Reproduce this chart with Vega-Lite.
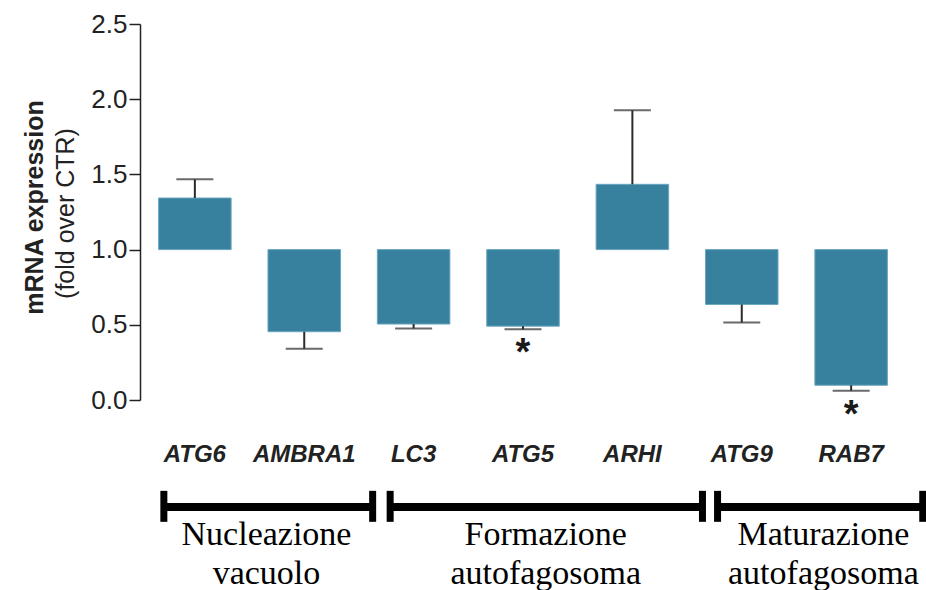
{
  "$schema": "https://vega.github.io/schema/vega-lite/v6.json",
  "width": 766,
  "height": 376,
  "autosize": {"type": "none"},
  "padding": {"left": 140, "top": 24, "right": 20, "bottom": 190},
  "background": "white",
  "config": {"view": {"stroke": null}, "font": "Liberation Sans"},
  "datasets": {
    "genes": [
      {"gene": "ATG6", "value": 1.343, "err": 1.467, "sig": ""},
      {"gene": "AMBRA1", "value": 0.454, "err": 0.341, "sig": ""},
      {"gene": "LC3", "value": 0.505, "err": 0.476, "sig": ""},
      {"gene": "ATG5", "value": 0.491, "err": 0.471, "sig": "*"},
      {"gene": "ARHI", "value": 1.434, "err": 1.926, "sig": ""},
      {"gene": "ATG9", "value": 0.635, "err": 0.516, "sig": ""},
      {"gene": "RAB7", "value": 0.098, "err": 0.062, "sig": "*"}
    ],
    "phases": [
      {"start": -0.282, "end": 1.626, "mid": 0.656, "label": ["Nucleazione", "vacuolo"]},
      {"start": 1.786, "end": 4.640, "mid": 3.208, "label": ["Formazione", "autofagosoma"]},
      {"start": 4.778, "end": 6.653, "mid": 5.745, "label": ["Maturazione", "autofagosoma"]}
    ]
  },
  "resolve": {"scale": {"x": "independent"}, "axis": {"y": "independent", "x": "independent"}},
  "layer": [
    {
      "data": {"name": "genes"},
      "encoding": {
        "x": {
          "field": "gene", "type": "nominal", "sort": null,
          "scale": {"paddingInner": 0.337, "paddingOuter": 0.17},
          "axis": {
            "title": null, "domain": false, "ticks": false, "labelAngle": 0,
            "labelPadding": 42, "labelFontSize": 24, "labelFontWeight": "bold",
            "labelFontStyle": "italic", "labelColor": "#222222", "labelFont": "Liberation Sans"
          }
        }
      },
      "layer": [
        {
          "mark": {"type": "bar", "color": "#37819F", "stroke": "#6aa6c0", "strokeWidth": 1},
          "encoding": {
            "y": {
              "field": "value", "type": "quantitative",
              "scale": {"domain": [0, 2.5], "nice": false, "zero": false},
              "axis": {
                "orient": "left",
                "values": [0, 0.5, 1, 1.5, 2, 2.5], "format": ".1f", "grid": false,
                "domainColor": "#222222", "domainWidth": 1.5, "tickColor": "#222222",
                "tickWidth": 1.5, "tickSize": 11, "labelFontSize": 26, "labelPadding": 2,
                "labelColor": "#222222", "labelFont": "Liberation Sans",
                "title": "(fold over CTR)", "titleFontWeight": "normal", "titleFontSize": 25,
                "titleColor": "#222222", "titleFont": "Liberation Sans",
                "titleAngle": 270, "titleBaseline": "middle", "titleAlign": "center",
                "titleX": -75, "titleY": 189
              }
            },
            "y2": {"datum": 1}
          }
        },
        {
          "mark": {"type": "rule", "color": "#2b2b2b", "strokeWidth": 2},
          "encoding": {
            "y": {"field": "value", "type": "quantitative"},
            "y2": {"field": "err"}
          }
        },
        {
          "mark": {"type": "tick", "color": "#2b2b2b", "thickness": 2, "size": 37},
          "encoding": {"y": {"field": "err", "type": "quantitative"}}
        },
        {
          "mark": {"type": "text", "baseline": "top", "fontSize": 38, "fontWeight": "bold", "dy": 6, "color": "#1a1a1a"},
          "encoding": {
            "y": {"field": "err", "type": "quantitative"},
            "text": {"field": "sig"}
          }
        }
      ]
    },
    {
      "mark": {"type": "rule", "color": "#2b2b2b", "strokeWidth": 2},
      "encoding": {
        "y": {
          "datum": 1, "type": "quantitative",
          "axis": {
            "orient": "left", "labels": false, "ticks": false, "domain": false, "grid": false,
            "title": "mRNA expression", "titleFontWeight": "bold", "titleFontSize": 25,
            "titleColor": "#222222", "titleFont": "Liberation Sans",
            "titleAngle": 270, "titleBaseline": "middle", "titleAlign": "center",
            "titleX": -106, "titleY": 183
          }
        }
      }
    },
    {
      "data": {"name": "phases"},
      "encoding": {
        "x": {
          "field": "start", "type": "quantitative",
          "scale": {"domain": [-0.5, 6.5], "nice": false, "zero": false},
          "axis": null
        }
      },
      "layer": [
        {
          "mark": {"type": "rule", "color": "black", "strokeWidth": 8, "strokeCap": "butt"},
          "encoding": {
            "x2": {"field": "end"},
            "y": {"datum": -0.711, "type": "quantitative", "axis": null}
          }
        },
        {
          "transform": [{"fold": ["start", "end"], "as": ["side", "pos"]}],
          "mark": {"type": "rule", "color": "black", "strokeWidth": 7, "strokeCap": "butt"},
          "encoding": {
            "x": {"field": "pos", "type": "quantitative", "axis": null},
            "y": {"datum": -0.604, "type": "quantitative", "axis": null},
            "y2": {"datum": -0.81}
          }
        },
        {
          "mark": {"type": "text", "font": "Liberation Serif", "fontSize": 34, "lineHeight": 39, "baseline": "alphabetic", "color": "black"},
          "encoding": {
            "x": {"field": "mid", "type": "quantitative", "axis": null},
            "y": {"datum": -0.963, "type": "quantitative", "axis": null},
            "text": {"field": "label"}
          }
        }
      ]
    }
  ]
}
